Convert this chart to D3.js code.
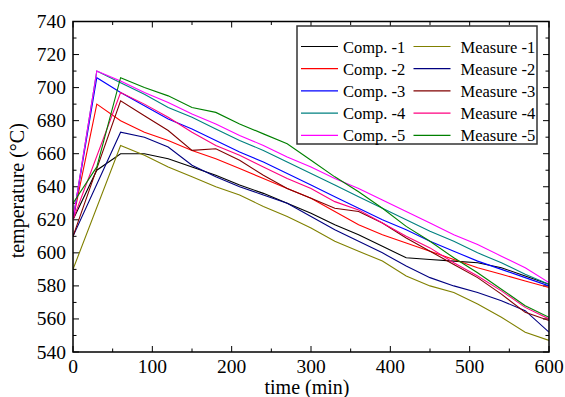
<!DOCTYPE html>
<html>
<head>
<meta charset="utf-8">
<script src="https://cdn.jsdelivr.net/npm/d3@7"></script>
<style>
  body { margin: 0; background: #fff; }
  text { font-family: "Liberation Serif", "Times New Roman", serif; fill: #000; }
</style>
</head>
<body>
<div id="chart"></div>
<script>
const WIDTH = 565;
const HEIGHT = 397;
const margins = [73, 16, 21.5, 45]; // LEFT, RIGHT, TOP, BOTTOM

// time axis (min)
const times = [0, 30, 60, 90, 120, 150, 180, 210, 240, 270, 300, 330, 360, 390, 420, 450, 480, 510, 540, 570, 600];

// computed curves
const comp1 = [620, 650, 660, 660, 657, 652, 647, 641, 636, 630, 624, 617, 611, 604, 597, 596, 595, 594, 591, 586, 581];
const comp2 = [620, 690, 680, 673, 668, 662, 657, 651, 645, 639, 633, 625, 617, 611, 606, 601, 596, 591, 587, 583, 579];
const comp3 = [620, 706, 697, 689, 681, 675, 668, 661, 655, 648, 641, 634, 627, 620, 614, 607, 601, 595, 590, 585, 580];
const comp4 = [620, 710, 703, 696, 688, 682, 675, 668, 662, 655, 648, 641, 634, 627, 620, 613, 607, 600, 594, 587, 581];
const comp5 = [620, 710, 704, 697, 691, 684, 678, 671, 665, 658, 652, 645, 639, 632, 625, 618, 611, 605, 598, 591, 582];

// measured curves (null = no reading)
const meas1 = [590, null, 665, 659, 652, 646, 640, 635, 628, 622, 615, 607, 601, 595, 586, 580, 576, 569, 561, 552, 547];
const meas2 = [610, null, 673, 670, 664, 653, 646, 640, 635, 630, 622, 614, 607, 600, 592, 585, 580, 576, 571, 565, 552];
const meas3 = [610, null, 692, 683, 674, 662, 663, 656, 647, 639, 633, 627, 625, 618, 609, 601, 593, 585, 575, 564, 559];
const meas4 = [620, null, 697, 690, 682, 673, 665, 659, 652, 645, 639, 631, 626, 618, 610, 603, 594, 586, 577, 567, 560];
const meas5 = [630, 652, 706, 700, 695, 688, 685, 678, 672, 666, 656, 646, 637, 627, 616, 607, 597, 588, 578, 568, 561];

const seriesNames = ["Comp. -1", "Comp. -2", "Comp. -3", "Comp. -4", "Comp. -5",
                     "Measure -1", "Measure -2", "Measure -3", "Measure -4", "Measure -5"];
const seriesValues = [comp1, comp2, comp3, comp4, comp5, meas1, meas2, meas3, meas4, meas5];
const seriesColors = ["#000000", "#ff0000", "#0000ff", "#008080", "#ff00ff",
                      "#808000", "#000080", "#800000", "#ff0080", "#008000"];

const xTicks = [0, 100, 200, 300, 400, 500, 600];
const yTicks = [540, 560, 580, 600, 620, 640, 660, 680, 700, 720, 740];

const svg = d3.select("#chart").append("svg")
    .attr("width", WIDTH)
    .attr("height", HEIGHT);

const x = d3.scaleLinear().domain([0, 600]).range([margins[0], WIDTH - margins[1]]);
const y = d3.scaleLinear().domain([540, 740]).range([HEIGHT - margins[3], margins[2]]);

const pLeft = x(0), pRight = x(600), pTop = y(740), pBottom = y(540);

// ticks on all four sides, pointing inward
const xMinor = d3.range(0, 601, 50);
const yMinor = d3.range(540, 741, 10);
const ticks = svg.append("g").attr("stroke", "#000").attr("stroke-width", 1);
xMinor.forEach(t => {
    const len = t % 100 === 0 ? 6 : 3.5;
    ticks.append("line").attr("x1", x(t)).attr("x2", x(t)).attr("y1", pBottom).attr("y2", pBottom - len);
    ticks.append("line").attr("x1", x(t)).attr("x2", x(t)).attr("y1", pTop).attr("y2", pTop + len);
});
yMinor.forEach(v => {
    const len = v % 20 === 0 ? 6 : 3.5;
    ticks.append("line").attr("x1", pLeft).attr("x2", pLeft + len).attr("y1", y(v)).attr("y2", y(v));
    ticks.append("line").attr("x1", pRight).attr("x2", pRight - len).attr("y1", y(v)).attr("y2", y(v));
});

// tick labels
svg.append("g").selectAll("text")
    .data(xTicks)
    .join("text")
    .attr("x", d => x(d))
    .attr("y", pBottom + 21)
    .attr("text-anchor", "middle")
    .style("font-size", "19.5px")
    .text(d => d);

svg.append("g").selectAll("text")
    .data(yTicks)
    .join("text")
    .attr("x", pLeft - 7)
    .attr("y", d => y(d) + 6.5)
    .attr("text-anchor", "end")
    .style("font-size", "19.5px")
    .text(d => d);

// lines
svg.append("clipPath").attr("id", "plot-clip")
    .append("rect").attr("x", pLeft).attr("y", pTop).attr("width", pRight - pLeft).attr("height", pBottom - pTop);

const line = d3.line()
    .x(d => x(d[0]))
    .y(d => y(d[1]));

svg.append("g").attr("clip-path", "url(#plot-clip)")
    .selectAll("path")
    .data(seriesValues.map((vals, i) => ({
        color: seriesColors[i],
        pts: times.map((t, j) => [t, vals[j]]).filter(p => p[1] !== null)
    })))
    .join("path")
    .attr("fill", "none")
    .attr("stroke", d => d.color)
    .attr("stroke-width", 1.1)
    .attr("d", d => line(d.pts));

// frame
svg.append("rect")
    .attr("x", pLeft).attr("y", pTop)
    .attr("width", pRight - pLeft).attr("height", pBottom - pTop)
    .attr("fill", "none").attr("stroke", "#000").attr("stroke-width", 1.5);

// axis titles
svg.append("text")
    .attr("x", 307)
    .attr("y", HEIGHT - 3)
    .attr("text-anchor", "middle")
    .style("font-size", "20px")
    .text("time (min)");

svg.append("text")
    .attr("transform", `translate(24, ${(pTop + pBottom) / 2 + 4}) rotate(-90)`)
    .attr("text-anchor", "middle")
    .style("font-size", "20px")
    .text("temperature (°C)");

// legend
const legX = 297, legY = 26, legW = 240, legH = 118;
const legend = svg.append("g");
legend.append("rect")
    .attr("x", legX).attr("y", legY).attr("width", legW).attr("height", legH)
    .attr("fill", "#fff").attr("stroke", "#333").attr("stroke-width", 1.5);

seriesNames.forEach((name, i) => {
    const col = Math.floor(i / 5);
    const row = i % 5;
    const ly = legY + 20.5 + row * 22.2;
    const lx = legX + 4 + col * 112.5;
    legend.append("line")
        .attr("x1", lx).attr("x2", lx + 37)
        .attr("y1", ly).attr("y2", ly)
        .attr("stroke", seriesColors[i]).attr("stroke-width", 1.2);
    legend.append("text")
        .attr("x", lx + (col === 0 ? 42 : 47))
        .attr("y", ly + 6)
        .style("font-size", "16.5px")
        .text(name);
});
</script>
</body>
</html>
